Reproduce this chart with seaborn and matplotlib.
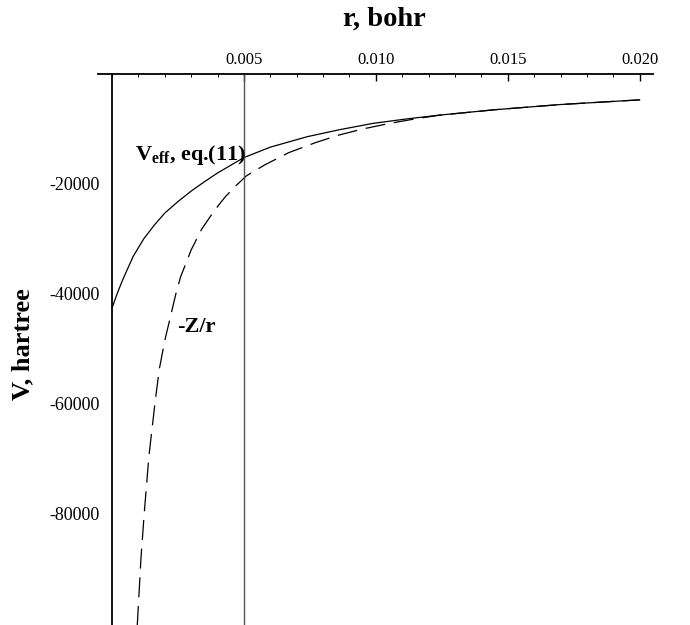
import matplotlib
matplotlib.use("Agg")
import matplotlib.pyplot as plt
import seaborn as sns
import pandas as pd
from matplotlib.ticker import MultipleLocator, FixedLocator

# Data
r_eff = [0.0, 0.0002, 0.0004, 0.0008, 0.0012, 0.0016, 0.002, 0.0025, 0.003, 0.0035, 0.004,
         0.005, 0.006, 0.0074, 0.0086, 0.0099, 0.0112, 0.0124, 0.0145, 0.017, 0.020]
v_eff = [-42600, -39900, -37500, -33200, -30000, -27500, -25300, -23200, -21300, -19600, -18000,
         -15200, -13300, -11400, -10150, -8970, -8150, -7480, -6500, -5550, -4700]

r_coul = [0.00095, 0.0011, 0.00122, 0.0014, 0.00165, 0.0018, 0.002, 0.00242, 0.0026, 0.003,
          0.0034, 0.0039, 0.0043, 0.0047, 0.0051, 0.0058, 0.0067, 0.0077, 0.0086, 0.0095,
          0.0105, 0.0115, 0.0124, 0.0145, 0.017, 0.020]
v_coul = [-101000, -88000, -80000, -69500, -59000, -53500, -48500, -40000, -36900, -32000,
          -28200, -24700, -22300, -20300, -18500, -16500, -14300, -12500, -11100, -10000,
          -9000, -8150, -7500, -6500, -5550, -4700]

x_ticks = [0.005, 0.010, 0.015, 0.020]
x_tick_labels = ["0.005", "0.010", "0.015", "0.020"]
y_ticks = [-20000, -40000, -60000, -80000]
y_tick_labels = ["-20000", "-40000", "-60000", "-80000"]
r_marker = 0.005

sns.set_theme(style="white")
plt.rcParams['font.family'] = ['Liberation Serif', 'DejaVu Serif']
plt.rcParams['mathtext.fontset'] = 'custom'
plt.rcParams['mathtext.rm'] = 'Liberation Serif'
plt.rcParams['mathtext.bf'] = 'Liberation Serif:bold'
plt.rcParams['mathtext.it'] = 'Liberation Serif:italic'
plt.rcParams['text.color'] = 'black'
plt.rcParams['xtick.color'] = 'black'
plt.rcParams['ytick.color'] = 'black'
plt.rcParams['xtick.labelcolor'] = 'black'
plt.rcParams['ytick.labelcolor'] = 'black'

fig = plt.figure(figsize=(6.9, 6.25), dpi=100)
ax = fig.add_axes([0.142, 0.0, 0.804, 0.8816])

df_eff = pd.DataFrame({"r": r_eff, "V": v_eff})
df_coul = pd.DataFrame({"r": r_coul, "V": v_coul})

sns.lineplot(data=df_eff, x="r", y="V", ax=ax, color="black", linewidth=0.9,
             estimator=None, sort=False)
sns.lineplot(data=df_coul, x="r", y="V", ax=ax, color="black", linewidth=0.9,
             estimator=None, sort=False, linestyle=(0, (16, 7)))

ax.axvline(r_marker, color="#555555", linewidth=1.0)

ax.set_xlim(-0.00053, 0.02049)
ax.set_ylim(-100200, 0)

for s in ["bottom", "right"]:
    ax.spines[s].set_visible(False)
ax.spines["left"].set_position(("data", 0))
ax.spines["left"].set_color("black")
ax.spines["left"].set_linewidth(1.3)
ax.spines["top"].set_color("black")
ax.spines["top"].set_linewidth(1.3)

ax.xaxis.tick_top()
ax.xaxis.set_major_locator(FixedLocator(x_ticks))
ax.set_xticklabels(x_tick_labels)
ax.xaxis.set_minor_locator(MultipleLocator(0.001))
ax.yaxis.set_major_locator(FixedLocator(y_ticks))
ax.set_yticklabels(y_tick_labels)
ax.tick_params(axis="x", which="major", direction="in", length=5, width=1,
               pad=4, labelsize=12, colors="black")
ax.tick_params(axis="x", which="minor", direction="in", length=2.5, width=0.7,
               top=True, colors="black")
ax.tick_params(axis="y", which="major", direction="inout", length=6, width=1,
               pad=6, labelsize=13, colors="black")
ax.set_xlabel("")
ax.set_ylabel("")

ax.text(0.00087, -15600, r"$\mathbf{V_{eff}}$, eq.(11)", fontsize=16,
        fontweight="bold", ha="left", va="baseline", color="black")
ax.text(0.00245, -46900, "-Z/r", fontsize=16, fontweight="bold",
        ha="left", va="baseline", color="black")

fig.text(384 / 690, 1 - 19 / 625, "r, bohr", fontsize=20.5, fontweight="bold",
         ha="center", va="center", color="black")
fig.text(23 / 690, 1 - 344 / 625, "V, hartree", fontsize=19, fontweight="bold",
         ha="center", va="center", rotation=90, color="black")

fig.savefig("out.png", dpi=100)
